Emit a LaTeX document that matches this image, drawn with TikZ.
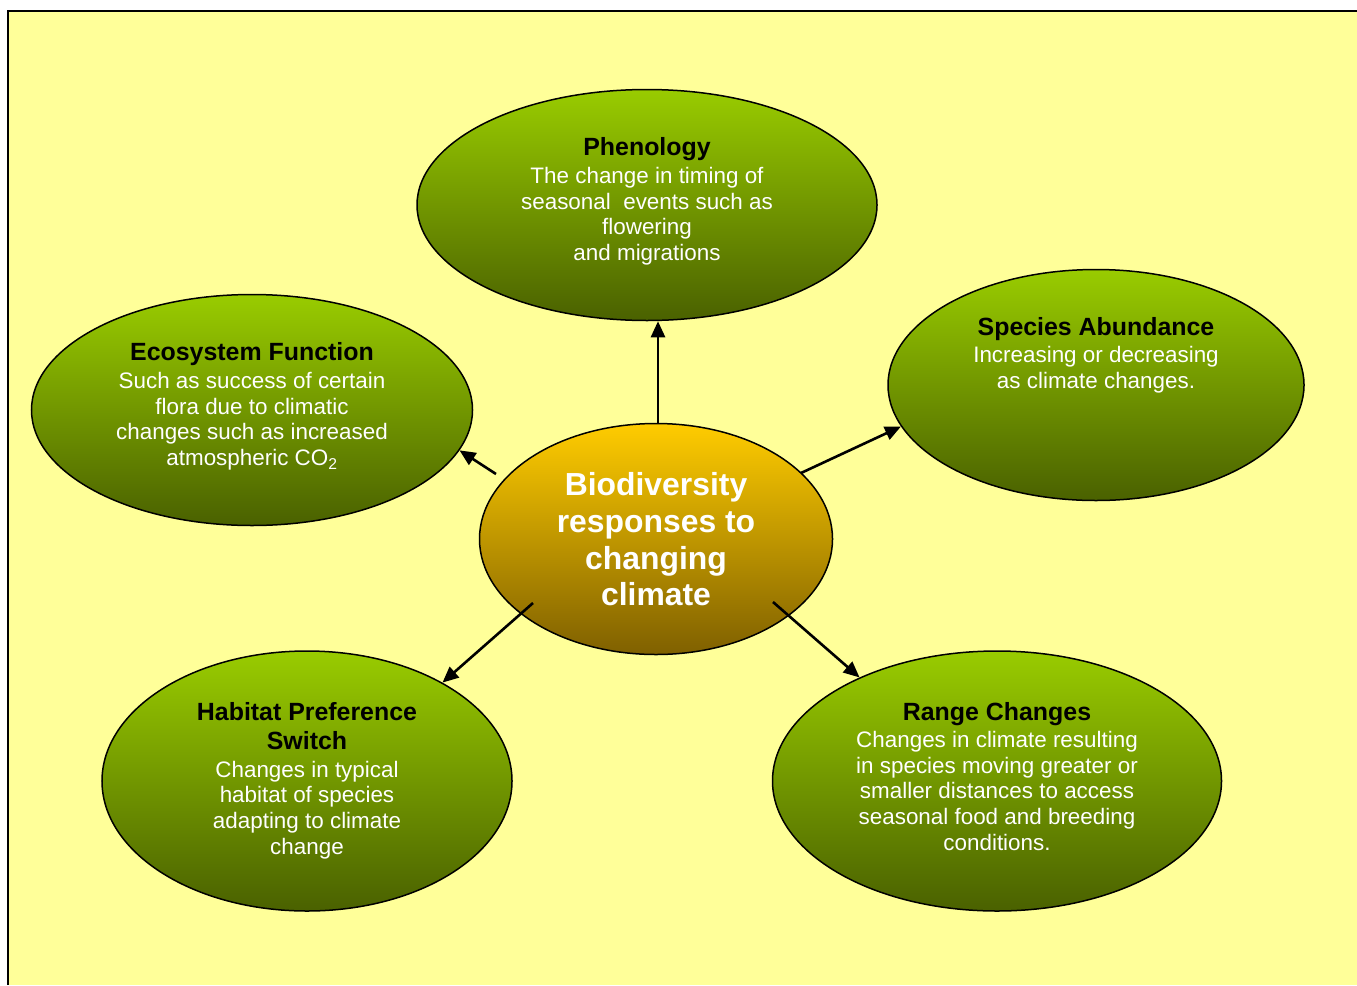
\documentclass[tikz,border=0pt]{standalone}
\usepackage{fontspec}
\setmainfont{Liberation Sans}
\usetikzlibrary{shapes.geometric,arrows.meta,calc}
\definecolor{bgyellow}{HTML}{FFFF99}
\definecolor{gtop}{HTML}{99CC00}
\definecolor{gbot}{HTML}{4A6100}
\definecolor{ytop}{HTML}{FFCC00}
\definecolor{ybot}{HTML}{7F6000}
\begin{document}
\begin{tikzpicture}[x=1bp,y=-1bp,
  bubble/.style={ellipse,draw=black,line width=1.5bp,top color=gtop,bottom color=gbot,inner sep=0},
  hub/.style={ellipse,draw=black,line width=1.5bp,top color=ytop,bottom color=ybot,inner sep=0},
  label/.style={align=center,inner sep=0,anchor=north,text=white,font=\fontsize{22.5}{26}\selectfont},
  arr/.style={line width=2.6bp,-{Triangle[length=16bp,width=14bp]}}]
\newcommand{\ttlfont}{\color{black}\bfseries\fontsize{25}{29}\selectfont}
\useasboundingbox (0,0) rectangle (1357,985);
\fill[white] (0,0) rectangle (1357,985);
\fill[bgyellow] (8,11) rectangle (1357,985);
\draw[line width=2.2bp] (8,985) -- (8,11) -- (1357,11);

\node[bubble,minimum width=460bp,minimum height=231bp] (phen) at (647,205) {};
\node[bubble,minimum width=441bp,minimum height=231bp] (eco) at (252,410) {};
\node[bubble,minimum width=416bp,minimum height=231bp] (spec) at (1096,385) {};
\node[bubble,minimum width=410bp,minimum height=260bp] (hab) at (307,781) {};
\node[bubble,minimum width=449bp,minimum height=260bp] (rng) at (997,781) {};
\node[hub,minimum width=353bp,minimum height=231bp] (cen) at (656,539) {};

\node[label] (phenT) at (647,137) {{\ttlfont Phenology}\\[2bp]The change in timing of\\seasonal\ \ events such as\\flowering\\and migrations};
\node[label] (ecoT) at (252,342) {{\ttlfont Ecosystem Function}\\[2bp]Such as success of certain\\flora due to climatic\\changes such as increased\\atmospheric CO\textsubscript{2}};
\node[label] (specT) at (1096,317) {{\ttlfont Species Abundance}\\[1bp]Increasing or decreasing\\as climate changes.};
\node[label] (habT) at (307,702) {{\ttlfont Habitat Preference}\\[3bp]{\ttlfont Switch}\\[2bp]Changes in typical\\habitat of species\\adapting to climate\\change};
\node[label] (rngT) at (997,702) {{\ttlfont Range Changes}\\[1bp]Changes in climate resulting\\in species moving greater or\\smaller distances to access\\seasonal food and breeding\\conditions.};
\node[align=center,inner sep=0,anchor=north,text=white,font=\bfseries\fontsize{32}{37}\selectfont] (cenT) at (656,472) {Biodiversity\\responses to\\changing\\climate};

\coordinate (s1) at ($(cen.north)+(2,0)$);
\coordinate (s2) at (496,474);
\coordinate (s3) at (801,473);
\coordinate (s4) at (533,603);
\coordinate (s5) at (773,602);
\draw[arr] (s1) -- (s1 |- phen.south);
\draw[arr] (s2) -- (eco.-11.3);
\draw[arr] (s3) -- (spec.-168.2);
\draw[arr] (s4) -- (hab.36.7);
\draw[arr] (s5) -- (rng.143.7);
\end{tikzpicture}
\end{document}
